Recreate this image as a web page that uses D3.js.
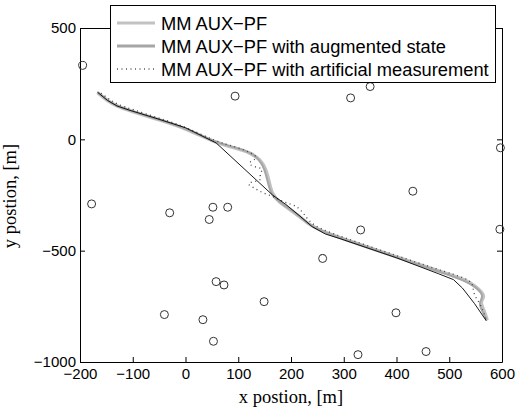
<!DOCTYPE html>
<html>
<head>
<meta charset="utf-8">
<script src="https://cdn.jsdelivr.net/npm/d3@7"></script>
<style>
  body { margin: 0; background: #fff; }
  .axis text { font-family: "Liberation Sans", Arial, sans-serif; font-size: 15px; fill: #000; }
  .axis path, .axis line { stroke: #000; stroke-width: 1; }
  .label { font-family: "Liberation Serif", "Times New Roman", serif; font-size: 18.5px; fill: #000; }
  .legend text { font-family: "Liberation Sans", Arial, sans-serif; font-size: 18.3px; fill: #000; }
</style>
</head>
<body>
<div id="container"></div>
<script>
// landmark positions [m]
var landmarkX = [-195, -178, -30, 94, 313, 350, 597, 431, 596, 52, 80, 45, 332, 260, 58, 73, 149, -40, 33, 399, 53, 327, 456];
var landmarkY = [332, -290, -330, 194, 186, 237, -38, -233, -404, -305, -305, -360, -407, -535, -639, -654, -729, -787, -810, -779, -907, -967, -953];

// true trajectory (thin black)
var truePath = [[-167, 212], [-148, 175], [-130, 150], [-105, 130], [-50, 90], [0, 52], [58, -16],
  [165, -250], [190, -292], [217, -345], [240, -392], [265, -425], [293, -446], [400, -532],
  [480, -604], [508, -630], [525, -668], [548, -738], [570, -814]];

// MM AUX-PF estimate
var auxPath = [[-167, 210], [-148, 173], [-130, 148], [-105, 128], [-50, 88], [0, 50], [58, -17],
  [94, -38], [125, -62], [142, -92], [153, -135], [159, -195], [164, -248], [178, -282], [195, -310],
  [217, -347], [232, -380], [258, -412], [293, -442], [400, -528], [480, -592], [508, -612],
  [530, -632], [548, -656], [562, -686], [567, -708], [558, -730], [565, -762], [572, -812]];

// MM AUX-PF with augmented state
var augPath = [[-166, 211], [-148, 174], [-130, 149], [-105, 129], [-50, 89], [0, 51], [58, -16],
  [96, -37], [124, -60], [140, -90], [150, -133], [156, -193], [162, -247], [177, -280], [195, -308],
  [217, -346], [233, -381], [259, -413], [293, -443], [400, -529], [480, -594], [508, -616],
  [532, -638], [551, -664], [563, -694], [562, -716], [556, -740], [563, -772], [571, -814]];

// MM AUX-PF with artificial measurement
var artPath = [[-160, 207], [-145, 180], [-128, 156], [-100, 134], [-50, 95], [0, 57], [58, -11],
  [95, -33], [125, -60], [140, -85], [115, -105], [130, -125], [150, -130], [138, -160], [148, -185],
  [112, -195], [128, -215], [145, -240], [165, -255], [180, -275], [200, -292], [212, -302], [225, -335],
  [240, -388], [293, -436], [400, -522], [480, -586], [508, -606], [530, -624],
  [546, -646], [545, -696], [560, -740], [570, -810]];

var legendLabels = ["MM AUX\u2212PF", "MM AUX\u2212PF with augmented state", "MM AUX\u2212PF with artificial measurement"];

var xTicks = [-200, -100, 0, 100, 200, 300, 400, 500, 600];
var yTicks = [-1000, -500, 0, 500];

var W = 516, H = 407;
var margin = {top: 28, right: 14, bottom: 45, left: 80},
    width = W - margin.left - margin.right,
    height = H - margin.top - margin.bottom;

var svg = d3.select("#container").append("svg")
    .attr("width", W)
    .attr("height", H);

var g = svg.append("g")
    .attr("transform", "translate(" + margin.left + "," + margin.top + ")");

var x = d3.scaleLinear().domain([-200, 600]).range([0, width]);
var y = d3.scaleLinear().domain([-1000, 500]).range([height, 0]);

var fmt = d3.format("d");

// axes with inward ticks, matlab style box
g.append("g").attr("class", "axis")
  .attr("transform", "translate(0," + height + ")")
  .call(d3.axisBottom(x).tickValues(xTicks).tickFormat(fmt).tickSizeInner(-5).tickSizeOuter(0).tickPadding(6));

g.append("g").attr("class", "axis")
  .call(d3.axisLeft(y).tickValues(yTicks).tickFormat(fmt).tickSizeInner(-5).tickSizeOuter(0).tickPadding(4));

g.append("g").attr("class", "axis")
  .call(d3.axisTop(x).tickValues(xTicks).tickSizeInner(-5).tickSizeOuter(0).tickFormat(""));

g.append("g").attr("class", "axis")
  .attr("transform", "translate(" + width + ",0)")
  .call(d3.axisRight(y).tickValues(yTicks).tickSizeInner(-5).tickSizeOuter(0).tickFormat(""));

// landmarks
g.selectAll(".lm")
  .data(landmarkX)
  .enter().append("circle")
  .attr("class", "lm")
  .attr("cx", function(d) { return x(d); })
  .attr("cy", function(d, i) { return y(landmarkY[i]); })
  .attr("r", 4)
  .attr("fill", "none")
  .attr("stroke", "#333")
  .attr("stroke-width", 1);

var line = d3.line()
  .x(function(d) { return x(d[0]); })
  .y(function(d) { return y(d[1]); })
  .curve(d3.curveBasis);

g.append("path").datum(auxPath)
  .attr("d", line).attr("fill", "none")
  .attr("stroke", "#c2c2c2").attr("stroke-width", 3.5);

g.append("path").datum(augPath)
  .attr("d", line).attr("fill", "none")
  .attr("stroke", "#a6a6a6").attr("stroke-width", 2);

g.append("path").datum(artPath)
  .attr("d", line).attr("fill", "none")
  .attr("stroke", "#444").attr("stroke-width", 1.3)
  .attr("stroke-dasharray", "1,3.5");

g.append("path").datum(truePath)
  .attr("d", d3.line().x(function(d) { return x(d[0]); }).y(function(d) { return y(d[1]); }))
  .attr("fill", "none")
  .attr("stroke", "#000").attr("stroke-width", 0.9);

// axis labels
svg.append("text").attr("class", "label")
  .attr("text-anchor", "middle")
  .attr("x", 291).attr("y", 403)
  .text("x postion, [m]");

svg.append("text").attr("class", "label")
  .attr("text-anchor", "middle")
  .attr("transform", "translate(16,196) rotate(-90)")
  .text("y postion, [m]");

// legend
var legend = svg.append("g").attr("class", "legend");
legend.append("rect")
  .attr("x", 110.5).attr("y", 5.5)
  .attr("width", 385).attr("height", 77)
  .attr("fill", "#fff").attr("stroke", "#000").attr("stroke-width", 1);

var legStyles = [
  {stroke: "#c2c2c2", width: 3, dash: null},
  {stroke: "#a6a6a6", width: 3, dash: null},
  {stroke: "#555", width: 1.3, dash: "1,3.5"}
];

legendLabels.forEach(function(lab, i) {
  var cy = 23 + i * 23;
  legend.append("line")
    .attr("x1", 117).attr("x2", 155)
    .attr("y1", cy).attr("y2", cy)
    .attr("stroke", legStyles[i].stroke)
    .attr("stroke-width", legStyles[i].width)
    .attr("stroke-dasharray", legStyles[i].dash);
  legend.append("text")
    .attr("x", 161).attr("y", cy)
    .attr("dy", "0.36em")
    .text(lab);
});
</script>
</body>
</html>
